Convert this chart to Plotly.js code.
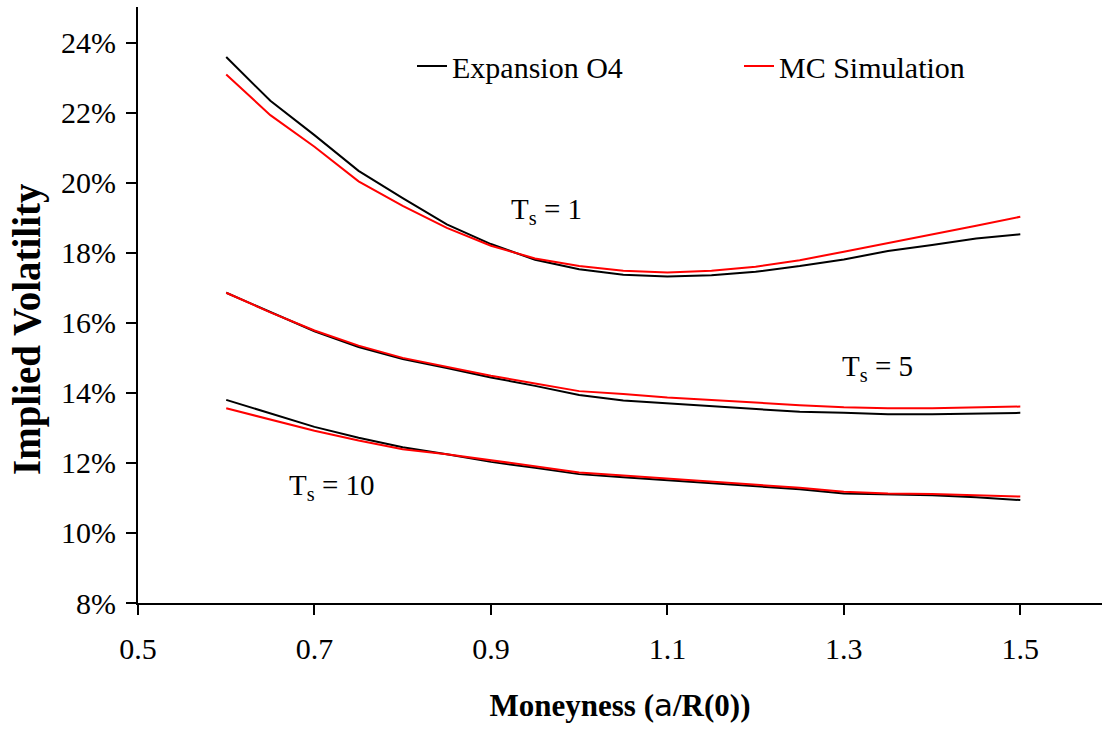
<!DOCTYPE html>
<html>
<head>
<meta charset="utf-8">
<script src="https://cdn.plot.ly/plotly-3.0.1.min.js"></script>
<style>html,body{margin:0;padding:0;background:#fff;}#chart{width:1102px;height:730px;}</style>
</head>
<body>
<div id="chart"></div>
<script>
const moneyness = [0.6,0.65,0.7,0.75,0.8,0.85,0.9,0.95,1.0,1.05,1.1,1.15,1.2,1.25,1.3,1.35,1.4,1.45,1.5];

// Implied volatility (%), Ts = 1
const expansionT1 = [23.59,22.34,21.36,20.34,19.56,18.81,18.25,17.80,17.53,17.37,17.32,17.36,17.46,17.62,17.81,18.05,18.22,18.41,18.53];
const mcT1        = [23.09,21.93,21.03,20.04,19.34,18.71,18.20,17.84,17.62,17.49,17.44,17.49,17.60,17.79,18.03,18.27,18.51,18.77,19.03];
// Ts = 5
const expansionT5 = [16.86,16.30,15.76,15.31,14.97,14.71,14.44,14.20,13.94,13.78,13.70,13.62,13.54,13.46,13.43,13.39,13.39,13.40,13.43];
const mcT5        = [16.86,16.30,15.78,15.35,15.00,14.74,14.49,14.27,14.05,13.97,13.87,13.80,13.72,13.65,13.59,13.56,13.56,13.59,13.61];
// Ts = 10
const expansionT10 = [13.80,13.42,13.03,12.72,12.45,12.25,12.03,11.86,11.68,11.59,11.50,11.42,11.34,11.25,11.13,11.10,11.08,11.02,10.94];
const mcT10        = [13.56,13.23,12.92,12.64,12.39,12.25,12.08,11.91,11.73,11.64,11.55,11.46,11.39,11.29,11.18,11.13,11.11,11.08,11.04];

const seriesNames = ["Expansion O4", "MC Simulation"];
const maturityLabels = ["T<sub>s</sub> = 1", "T<sub>s</sub> = 5", "T<sub>s</sub> = 10"];
const labelX = [0.963, 1.338, 0.719];
const labelY = [19.2, 14.7, 11.3];
const yTitle = "Implied Volatility";

const pct = a => a.map(v => v / 100);
const FONT = "Liberation Serif";

function line(y, name, color, show) {
  return {
    x: moneyness, y: pct(y), type: "scatter", mode: "lines",
    name: name, legendgroup: name, showlegend: show,
    line: {color: color, width: 2}, hoverinfo: "x+y"
  };
}

const traces = [
  line(expansionT1, seriesNames[0], "#000000", true),
  line(mcT1, seriesNames[1], "#ff0000", true),
  line(expansionT5, seriesNames[0], "#000000", false),
  line(mcT5, seriesNames[1], "#ff0000", false),
  line(expansionT10, seriesNames[0], "#000000", false),
  line(mcT10, seriesNames[1], "#ff0000", false)
];

const annotations = maturityLabels.map((t, i) => ({
  x: labelX[i], y: labelY[i] / 100, xref: "x", yref: "y",
  text: t, showarrow: false, xanchor: "center", yanchor: "middle",
  font: {family: FONT, size: 29, color: "#000"}
}));
annotations.push({
  x: (27 - 138) / 964, y: (603 - 329) / 596, xref: "paper", yref: "paper",
  text: "<b>" + yTitle + "</b>", textangle: -90, showarrow: false,
  xanchor: "center", yanchor: "middle",
  font: {family: FONT, size: 39, color: "#000"}
});

const layout = {
  width: 1102, height: 730,
  margin: {l: 138, r: 0, t: 7, b: 127, pad: 0},
  paper_bgcolor: "#fff", plot_bgcolor: "#fff",
  font: {family: FONT, color: "#000", size: 30},
  showlegend: true,
  legend: {
    orientation: "h", x: (412 - 138) / 964, xanchor: "left",
    y: (603 - 66) / 596, yanchor: "middle",
    font: {family: FONT, size: 30, color: "#000"},
    bgcolor: "rgba(0,0,0,0)", entrywidth: 282, entrywidthmode: "pixels",
    traceorder: "normal"
  },
  xaxis: {
    range: [0.5, 0.5 + 964 / 882.3], tick0: 0.5, dtick: 0.2, tickformat: ".1f",
    showgrid: false, zeroline: false, showline: true, linecolor: "#000", linewidth: 2,
    ticks: "outside", ticklen: 10, tickwidth: 2, tickcolor: "#000",
    tickfont: {family: FONT, size: 30, color: "#000"}, ticklabelstandoff: 8,
    title: {text: "<b>Moneyness (<span style=\"font-family:DejaVu Sans;font-weight:normal\">a</span>/R(0))</b>",
            font: {family: FONT, size: 31, color: "#000"}, standoff: 30}
  },
  yaxis: {
    range: [0.08, 0.08 + 596 / 3502], tick0: 0.08, dtick: 0.02, tickformat: ".0%",
    showgrid: false, zeroline: false, showline: true, linecolor: "#000", linewidth: 2,
    ticks: "outside", ticklen: 10, tickwidth: 2, tickcolor: "#000",
    tickfont: {family: FONT, size: 30, color: "#000"}, ticklabelstandoff: 4
  },
  annotations: annotations
};

Plotly.newPlot("chart", traces, layout, {displayModeBar: false, staticPlot: true});
</script>
</body>
</html>
